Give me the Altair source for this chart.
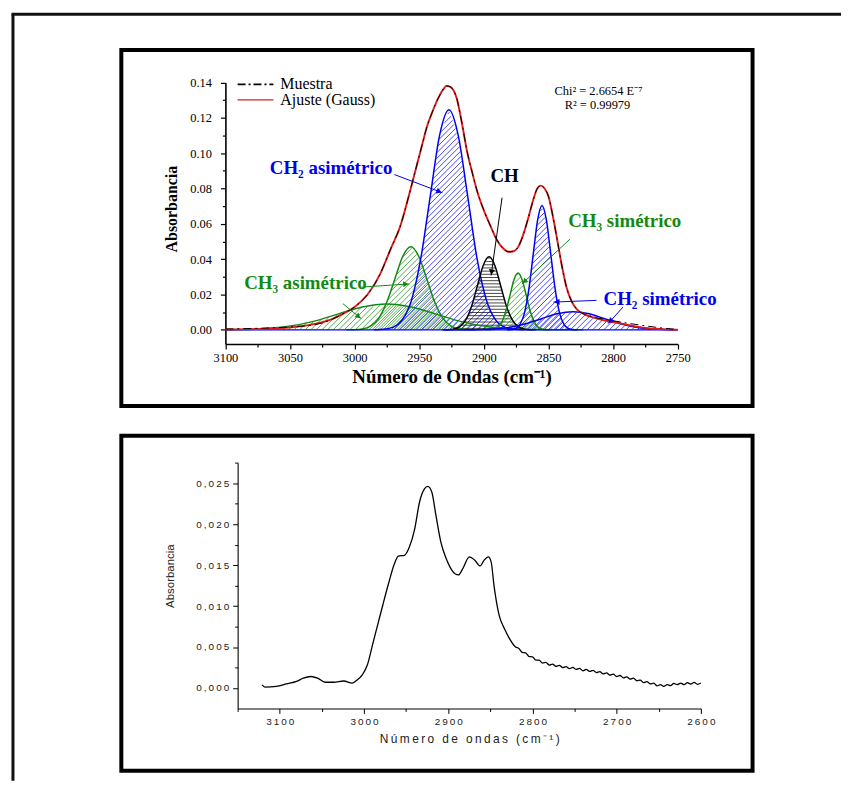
import math
import numpy as np
import altair as alt
import pandas as pd

# ------------------------------------------------------------------
# Top panel data
# ------------------------------------------------------------------
wn_fit = [3100, 3080, 3060, 3045, 3030, 3018, 3008, 3000, 2990, 2980,
          2972, 2965, 2958, 2953, 2948, 2944, 2940, 2935, 2931, 2929,
          2926, 2921, 2917, 2913, 2909, 2905, 2900, 2895, 2890, 2885,
          2881, 2877, 2873, 2869, 2865, 2862, 2859, 2856, 2853, 2850,
          2846, 2843, 2840, 2836, 2832, 2828, 2822, 2815, 2805, 2797,
          2787, 2777, 2767, 2760, 2750]
abs_fit = [0.0002, 0.0004, 0.0009, 0.0017, 0.0035, 0.006, 0.0095, 0.013, 0.020, 0.032,
           0.046, 0.058, 0.076, 0.090, 0.104, 0.115, 0.123, 0.1315, 0.1365, 0.138,
           0.1375, 0.131, 0.117, 0.101, 0.089, 0.078, 0.0676, 0.059, 0.051, 0.046,
           0.0442, 0.0445, 0.0475, 0.055, 0.065, 0.073, 0.0795, 0.0816, 0.080, 0.0755,
           0.062, 0.050, 0.0377, 0.024, 0.016, 0.0116, 0.0088, 0.0069, 0.005, 0.0041,
           0.0026, 0.0013, 0.0006, 0.0003, 0.0001]
abs_sample = [0.0005, 0.0008, 0.0013, 0.0019, 0.003, 0.0058, 0.0095, 0.013, 0.020, 0.032,
              0.046, 0.058, 0.076, 0.090, 0.104, 0.115, 0.123, 0.1315, 0.1365, 0.138,
              0.1375, 0.131, 0.117, 0.101, 0.089, 0.078, 0.0676, 0.059, 0.051, 0.046,
              0.0442, 0.0445, 0.0475, 0.055, 0.065, 0.073, 0.0795, 0.0816, 0.080, 0.0755,
              0.062, 0.050, 0.0377, 0.024, 0.016, 0.0116, 0.0088, 0.0072, 0.0058, 0.0048,
              0.0036, 0.0025, 0.0015, 0.0009, 0.0003]

# Gaussian components
wn_ch3_as_broad = [3100, 3089, 3070, 3051, 3032, 3013, 2994, 2975, 2956, 2937, 2918, 2899, 2880, 2861, 2842, 2823]
abs_ch3_as_broad = [0.00007, 0.00016, 0.00065, 0.0020, 0.0048, 0.0089, 0.0130, 0.0147, 0.0130, 0.0089, 0.0048, 0.0020, 0.00065, 0.00016, 0.00003, 0.0]

wn_ch3_as = [3006.5, 3000.3, 2994, 2987.8, 2981.5, 2975.3, 2969, 2962.8, 2956.5, 2950.3, 2944, 2937.8, 2931.5, 2925.3, 2919, 2912.8, 2906.5]
abs_ch3_as = [0.0, 0.0001, 0.0005, 0.0021, 0.0064, 0.0153, 0.0285, 0.0415, 0.047, 0.0415, 0.0285, 0.0153, 0.0064, 0.0021, 0.0005, 0.0001, 0.0]

wn_ch2_as = [2985, 2977.8, 2970.5, 2963.3, 2956, 2948.8, 2941.5, 2934.3, 2927, 2919.8, 2912.5, 2905.3, 2898, 2890.8, 2883.5, 2876.3, 2869]
abs_ch2_as = [0.0, 0.0003, 0.0014, 0.0055, 0.0168, 0.0404, 0.0755, 0.1099, 0.1245, 0.1099, 0.0755, 0.0404, 0.0168, 0.0055, 0.0014, 0.0003, 0.0]

wn_ch = [2932, 2927.5, 2923, 2918.5, 2914, 2909.5, 2905, 2900.5, 2896, 2891.5, 2887, 2882.5, 2878, 2873.5, 2869, 2864.5, 2860]
abs_ch = [0.0, 0.0001, 0.0005, 0.0018, 0.0056, 0.0134, 0.0250, 0.0364, 0.0413, 0.0364, 0.0250, 0.0134, 0.0056, 0.0018, 0.0005, 0.0001, 0.0]

wn_ch3_s = [2898.7, 2895.6, 2892.4, 2889.3, 2886.1, 2883, 2879.8, 2876.7, 2873.5, 2870.4, 2867.2, 2864.1, 2860.9, 2857.8, 2854.6, 2851.5, 2848.3]
abs_ch3_s = [0.0, 0.0001, 0.0004, 0.0014, 0.0044, 0.0105, 0.0195, 0.0284, 0.0322, 0.0284, 0.0195, 0.0105, 0.0044, 0.0014, 0.0004, 0.0001, 0.0]

wn_ch2_s = [2882.2, 2878.8, 2875.4, 2872, 2868.6, 2865.2, 2861.8, 2858.4, 2855, 2851.6, 2848.2, 2844.8, 2841.4, 2838, 2834.6, 2831.2, 2827.8]
abs_ch2_s = [0.0, 0.0002, 0.0008, 0.0031, 0.0095, 0.0229, 0.0427, 0.0621, 0.0704, 0.0621, 0.0427, 0.0229, 0.0095, 0.0031, 0.0008, 0.0002, 0.0]

wn_ch2_s_broad = [2931, 2918.5, 2906, 2893.5, 2881, 2868.5, 2856, 2843.5, 2831, 2818.5, 2806, 2793.5, 2781, 2768.5, 2756, 2750]
abs_ch2_s_broad = [0.0, 0.00002, 0.0001, 0.0005, 0.0014, 0.0033, 0.0062, 0.0091, 0.0103, 0.0091, 0.0062, 0.0033, 0.0014, 0.0005, 0.0001, 0.0]

wn_base = [3100, 2750]
abs_base = [0.0, 0.0]

# ------------------------------------------------------------------
# Bottom panel data
# ------------------------------------------------------------------
wn_ir = [3121, 3117.5, 3104, 3092, 3080, 3072, 3063, 3055, 3046, 3036,
         3024, 3014, 3009, 3002, 2996, 2990, 2983.5, 2977.7, 2970.4, 2964.1,
         2959.2, 2951.9, 2946.1, 2939.8, 2934, 2928.2, 2924.3, 2919.4, 2914.6, 2908.7,
         2902.4, 2895.1, 2887.9, 2883, 2874.8, 2868.4, 2862.1, 2857.3, 2852.4, 2849,
         2845.6, 2839.3, 2833, 2828.2, 2820,
         2816, 2812, 2808, 2804, 2800, 2796, 2792, 2788, 2784, 2780,
         2776, 2772, 2768, 2764, 2760, 2756, 2752, 2748, 2744, 2740,
         2736, 2732, 2728, 2724, 2720, 2716, 2712, 2708, 2704, 2700,
         2696, 2692, 2688, 2684, 2680, 2676, 2672, 2668, 2664, 2660,
         2656, 2652, 2648, 2644, 2640, 2636, 2632, 2628, 2624, 2620,
         2616, 2612, 2608, 2604, 2600]
abs_ir = [0.00037, 0.0001, 0.0002, 0.0005, 0.0008, 0.0012, 0.0014, 0.0012, 0.0007, 0.0007,
          0.00085, 0.0006, 0.0009, 0.0016, 0.0028, 0.0052, 0.0078, 0.0101, 0.0129, 0.0151,
          0.0161, 0.0162, 0.0172, 0.0194, 0.0227, 0.0243, 0.0246, 0.0239, 0.0211, 0.0178,
          0.0158, 0.0143, 0.0138, 0.0145, 0.0160, 0.0156, 0.0149, 0.0156, 0.0160, 0.0154,
          0.0125, 0.0088, 0.0072, 0.0062, 0.0050,
          0.00482, 0.00434, 0.00428, 0.00384, 0.0038, 0.0034, 0.0034, 0.00304, 0.00312, 0.0028,
          0.00292, 0.00264, 0.00276, 0.00248, 0.0026, 0.00236, 0.00252, 0.00226, 0.00238, 0.0021,
          0.00226, 0.00202, 0.00216, 0.00188, 0.0020, 0.00172, 0.00184, 0.00156, 0.00168, 0.0014,
          0.00152, 0.00124, 0.00136, 0.00108, 0.0012, 0.00088, 0.00096, 0.00066, 0.00078, 0.0005,
          0.00058, 0.00026, 0.0004, 0.0002, 0.0004, 0.00028, 0.00056, 0.0004, 0.0006, 0.0004,
          0.00064, 0.00048, 0.00068, 0.00044, 0.0006]

SERIF = "Liberation Serif"
SANS = "Liberation Sans"
BLUE = "#0000EE"
GREEN = "#128A12"
RED = "#E31A1A"
BLACK = "#000000"
THIN = "\u2009"

one = pd.DataFrame({"k": [0]})


def frame(wn, a):
    return pd.DataFrame({"wn": wn, "A": a})


# ------------------------------------------------------------------
# Top panel
# ------------------------------------------------------------------
TOP_W, TOP_H = 635, 358
XD, XR = (3100, 2750), (104.7, 559.7)
YD, YR = (-0.008, 0.14), (295.7, 32.5)

top_x_vals = list(range(2750, 3101, 25))
top_y_vals = [round(i * 0.01, 2) for i in range(0, 15)]

X_top = alt.X(
    "wn:Q",
    scale=alt.Scale(domain=list(XD), range=list(XR), nice=False, zero=False),
    axis=alt.Axis(
        values=top_x_vals,
        labelExpr="datum.value % 50 == 0 ? format(datum.value, 'd') : ''",
        tickSize={"condition": {"test": "datum.value % 50 == 0", "value": 5}, "value": 3},
        offset=-62.3, grid=False, domainColor=BLACK, domainWidth=1.6,
        tickColor=BLACK, tickWidth=1.2, labelColor=BLACK,
        labelFont=SERIF, labelFontSize=12.5, labelPadding=3, labelOverlap=False, labelFlush=False,
        title="Número de Ondas (cm⁻¹)", titleFont=SERIF, titleFontSize=19,
        titleFontWeight="bold", titleColor=BLACK, titlePadding=3,
    ),
)
Y_top = alt.Y(
    "A:Q",
    scale=alt.Scale(domain=list(YD), range=list(YR), nice=False, zero=False),
    axis=alt.Axis(
        values=top_y_vals,
        labelExpr="round(datum.value * 100) % 2 == 0 ? format(datum.value, '.2f') : ''",
        tickSize={"condition": {"test": "round(datum.value * 100) % 2 == 0", "value": 5}, "value": 3},
        offset=-104.7, grid=False, domainColor=BLACK, domainWidth=1.6,
        tickColor=BLACK, tickWidth=1.2, labelColor=BLACK,
        labelFont=SERIF, labelFontSize=12.5, labelPadding=9, labelOverlap=False, labelFlush=False,
        title="Absorbancia", titleFont=SERIF, titleFontSize=16, titleFontWeight="bold",
        titleColor=BLACK, titlePadding=10, titleY=159.5,
    ),
)


# pixel <-> data helpers used to build the hatching of each band
def to_px(w):
    return XR[0] + (XD[0] - w) / (XD[0] - XD[1]) * (XR[1] - XR[0])


def to_py(a):
    return YR[0] + (a - YD[0]) / (YD[1] - YD[0]) * (YR[1] - YR[0])


def from_px(p):
    return XD[0] - (p - XR[0]) / (XR[1] - XR[0]) * (XD[0] - XD[1])


def from_py(p):
    return YD[0] + (p - YR[0]) / (YR[1] - YR[0]) * (YD[1] - YD[0])


def _runs(mask):
    idx = np.flatnonzero(mask)
    if idx.size < 2:
        return []
    cut = np.flatnonzero(np.diff(idx) > 1)
    starts = np.r_[idx[0], idx[cut + 1]]
    ends = np.r_[idx[cut], idx[-1]]
    return [(s, e) for s, e in zip(starts, ends) if e - s >= 2]


def hatch(wn, a, step, kind):
    px = to_px(np.asarray(wn, float))
    py = to_py(np.asarray(a, float))
    o = np.argsort(px)
    px, py = px[o], py[o]
    g = np.arange(px[0], px[-1], 0.2)
    cy = np.interp(g, px, py)
    base = to_py(0.0)
    rows = []
    if kind == "diag":
        for c in np.arange(g[0] + cy.min(), g[-1] + base + step, step):
            ly = c - g
            for s, e in _runs((ly >= cy + 0.4) & (ly <= base)):
                rows.append((from_px(g[s]), from_py(ly[s]), from_px(g[e]), from_py(ly[e])))
    else:
        for ly in np.arange(base - 1.5, cy.min(), -step):
            for s, e in _runs(cy + 0.4 <= ly):
                rows.append((from_px(g[s]), from_py(ly), from_px(g[e]), from_py(ly)))
    return pd.DataFrame(rows, columns=["wn", "A", "wn2", "A2"])


components = [
    (wn_ch3_as_broad, abs_ch3_as_broad, GREEN, "diag"),
    (wn_ch3_as, abs_ch3_as, GREEN, "diag"),
    (wn_ch2_as, abs_ch2_as, BLUE, "diag"),
    (wn_ch, abs_ch, BLACK, "horiz"),
    (wn_ch3_s, abs_ch3_s, GREEN, "diag"),
    (wn_ch2_s, abs_ch2_s, BLUE, "diag"),
    (wn_ch2_s_broad, abs_ch2_s_broad, BLUE, "diag"),
]

layers = []
for wn, a, col, kind in components:
    hdf = hatch(wn, a, 5.6 if kind == "diag" else 3.2, kind)
    layers.append(
        alt.Chart(hdf).mark_rule(color=col, strokeWidth=0.8, opacity=0.9)
        .encode(x=X_top, y=Y_top, x2="wn2:Q", y2="A2:Q")
    )
for wn, a, col, kind in components:
    layers.append(
        alt.Chart(frame(wn, a)).mark_line(color=col, strokeWidth=1.5, interpolate="monotone")
        .encode(x=X_top, y=Y_top)
    )
layers.append(alt.Chart(frame(wn_base, abs_base)).mark_line(color=BLUE, strokeWidth=1.5)
              .encode(x=X_top, y=Y_top))
layers.append(alt.Chart(frame(wn_fit, abs_fit)).mark_line(color=RED, strokeWidth=1.9, interpolate="monotone")
              .encode(x=X_top, y=Y_top))
layers.append(alt.Chart(frame(wn_fit, abs_sample)).mark_line(color=BLACK, strokeWidth=1.0,
                                                             strokeDash=[8, 4, 2, 4], interpolate="monotone")
              .encode(x=X_top, y=Y_top))


def text(x, y, s, color=BLACK, size=12, font=SERIF, weight="normal", align="center"):
    return alt.Chart(one).mark_text(text=s, color=color, fontSize=size, font=font, fontWeight=weight,
                                    align=align, baseline="middle").encode(x=alt.value(x), y=alt.value(y))


def seg(x1, y1, x2, y2, color=BLACK, width=1.0, dash=None):
    kw = dict(color=color, strokeWidth=width)
    if dash:
        kw["strokeDash"] = dash
    return alt.Chart(one).mark_rule(**kw).encode(x=alt.value(x1), y=alt.value(y1),
                                                 x2=alt.value(x2), y2=alt.value(y2))


def arrow(x1, y1, x2, y2, color):
    dx, dy = x2 - x1, y2 - y1
    ang = math.degrees(math.atan2(dx, -dy)) % 360
    n = math.hypot(dx, dy)
    cx, cy = x2 - dx / n * 3.5, y2 - dy / n * 3.5
    head = alt.Chart(one).mark_point(shape="triangle-up", filled=True, color=color, size=38,
                                     angle=ang, opacity=1).encode(x=alt.value(cx), y=alt.value(cy))
    return [seg(x1, y1, x2, y2, color, 1.0), head]


# legend
layers.append(seg(117, 34.5, 153, 34.5, BLACK, 1.6, [8, 3, 2, 3]))
layers.append(seg(117, 50.2, 153, 50.2, RED, 1.3))
layers.append(text(160, 34.5, "Muestra", size=16, align="left"))
layers.append(text(160, 50.2, "Ajuste (Gauss)", size=16, align="left"))
# fit statistics
layers.append(text(480, 41.2, "Chi² = 2.6654 E⁻⁷", size=12.5))
layers.append(text(479, 55.2, "R² = 0.99979", size=12.5))
# band labels
layers.append(text(211, 118.5, "CH₂ asimétrico", BLUE, 19, weight="bold"))
layers.append(text(385.5, 126.8, "CH", BLACK, 19, weight="bold"))
layers.append(text(506.4, 171.8, "CH₃ simétrico", GREEN, 19, weight="bold"))
layers.append(text(185.2, 234.5, "CH₃ asimétrico", GREEN, 19, weight="bold"))
layers.append(text(542, 250.2, "CH₂ simétrico", BLUE, 19, weight="bold"))
layers += arrow(274.7, 125.2, 323, 143.5, BLUE)
layers += arrow(383, 148.5, 372, 226.8, BLACK)
layers += arrow(451.3, 190.2, 403, 235.2, GREEN)
layers += arrow(241.3, 238.5, 289.7, 235.2, GREEN)
layers += arrow(223, 255.2, 241.3, 270.2, GREEN)
layers += arrow(478, 251.8, 434.7, 253.5, BLUE)
layers += arrow(504.7, 258.5, 489.7, 275.2, BLUE)
# outer page frame (left and top edges)
layers.append(seg(-109, -36, -109, 735, "#111111", 3))
layers.append(seg(-110.5, -36, 724, -36, "#111111", 3))

top = alt.layer(*layers).properties(width=TOP_W, height=TOP_H)

# ------------------------------------------------------------------
# Bottom panel
# ------------------------------------------------------------------
BOT_W, BOT_H = 635, 337
bot_x_vals = list(range(2600, 3151, 50))
bot_y_vals = [round(i * 0.0025, 4) for i in range(0, 12)]
spaced_re = "regexp('(.)(?!$)', 'g')"

X_bot = alt.X(
    "wn:Q",
    scale=alt.Scale(domain=[3150, 2600], range=[117, 583], nice=False, zero=False),
    axis=alt.Axis(
        values=bot_x_vals,
        labelExpr=f"datum.value % 100 == 0 ? replace(format(datum.value, 'd'), {spaced_re}, '$1{THIN}') : ''",
        tickSize={"condition": {"test": "datum.value % 100 == 0", "value": 5}, "value": 3},
        offset=-62.7, grid=False, domainColor=BLACK, domainWidth=1.1,
        tickColor=BLACK, labelColor="#222222",
        labelFont=SANS, labelFontSize=10, labelPadding=3, labelOverlap=False, labelFlush=False,
        title=THIN.join("Número de ondas (cm⁻¹)"), titleFont=SANS, titleFontSize=12,
        titleFontWeight="normal", titleColor="#222222", titlePadding=7,
    ),
)
Y_bot = alt.Y(
    "A:Q",
    scale=alt.Scale(domain=[-0.0025, 0.0275], range=[274.3, 27.1], nice=False, zero=False),
    axis=alt.Axis(
        values=bot_y_vals,
        labelExpr=("round(datum.value * 10000) % 50 == 0 ? "
                   f"replace(replace(format(datum.value, '.3f'), '.', ','), {spaced_re}, '$1{THIN}') : ''"),
        tickSize={"condition": {"test": "round(datum.value * 10000) % 50 == 0", "value": 5}, "value": 3},
        offset=-117, grid=False, domainColor=BLACK, domainWidth=1.1,
        tickColor=BLACK, labelColor="#222222",
        labelFont=SANS, labelFontSize=10, labelPadding=4, labelOverlap=False, labelFlush=False,
        title="Absorbancia", titleFont=SANS, titleFontSize=11.5, titleFontWeight="normal",
        titleColor="#222222", titlePadding=20, titleY=140.7,
    ),
)

bottom = alt.Chart(frame(wn_ir, abs_ir)).mark_line(color=BLACK, strokeWidth=1.3, interpolate="monotone").encode(
    x=X_bot, y=Y_bot
).properties(width=BOT_W, height=BOT_H)

chart = alt.vconcat(top, bottom, spacing=30).properties(
    bounds="flush", padding={"left": 0, "top": 0, "right": 0, "bottom": 0}, background="white"
).configure_view(stroke=BLACK, strokeWidth=4)

chart.save("out.html", embed_options={"renderer": "svg", "actions": False})
